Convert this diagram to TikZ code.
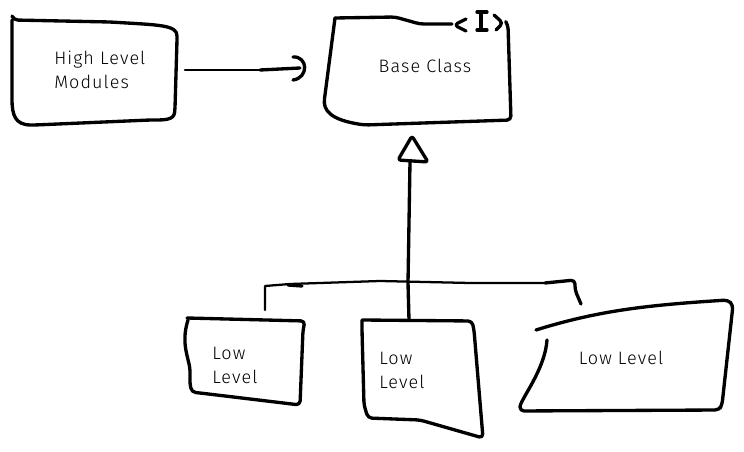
\documentclass[tikz,border=0pt]{standalone}
\usepackage{fontspec}
\setmainfont{Fira Sans Light}[LetterSpace=6]
\begin{document}
\begin{tikzpicture}[x=0.75pt,y=-0.75pt,
  sk/.style={line width=2.5pt,line cap=round,line join=round,rounded corners=3pt},
  thin/.style={line width=1.7pt,line cap=round,line join=round},
  lbl/.style={font=\fontsize{13.5}{18}\selectfont,align=left,inner sep=0pt}]
\useasboundingbox (0,0) rectangle (744,452);
% High level modules
\draw[sk] (12,16) -- (14,20) -- (110,22) .. controls (160,25) and (177,25) .. (177,40) -- (175,108) .. controls (174,120) and (165,120) .. (150,120) -- (35,125) .. controls (15,125) and (12,115) .. (12,95) -- (12,20);
\node[lbl,anchor=west] (high) at (54,70) {High Level\\Modules};
% Base class
\draw[sk] (335,18) -- (395,17) -- (420,24) -- (452,24);
\draw[sk] (466,19) -- (454,25) -- (466,31);
\draw[sk] (481,12) -- (481,30);
\draw[sk] (477,12) -- (487,12);
\draw[sk] (477,30) -- (487,30);
\draw[sk] (494,15) -- (503,23) -- (496,30);
\draw[sk] (506,22) -- (508,25) -- (511,120) -- (365,125) .. controls (330,120) and (323,110) .. (325,95) -- (335,18);
\node[lbl] (base) at (425,66) {Base Class};
% arrow high -> base
\coordinate (hA) at (185,70);
\coordinate (hB) at (300,68);
\draw[thin] (hA) -- (260,70);
\draw[sk] (260,70) -- (hB);
\draw[sk,rounded corners=0pt] (293,57) .. controls (308,56) and (309,78) .. (293,80);
% inheritance
\coordinate (tri) at (412,136);
\draw[sk,rounded corners=2pt] (tri) -- (428,162) -- (398,160) -- cycle;
\coordinate (junc) at (408,283);
\draw[sk] (410,162) -- (junc) -- (409,320);
% bracket
\draw[thin] (265,310) -- (265,286) -- (290,284) -- (380,281) -- (470,283) -- (545,283);
\draw[sk,rounded corners=0pt] (288,285) -- (302,286);
\draw[sk] (545,283) -- (575,280) -- (575,290) -- (581,304);
% Low 1
\draw[sk] (187,318) -- (305,321) -- (303,330) -- (300,405) -- (200,393) .. controls (190,392) and (190,385) .. (190,375) .. controls (190,360) and (180,345) .. (188,320);
\node[lbl,anchor=west] (low1) at (212,365) {Low\\Level};
% Low 2
\draw[sk] (362,320) -- (472,321) -- (474,330) -- (483,438) -- (420,420) -- (368,418) -- (364,405) -- (362,330) -- (362,320);
\node[lbl,anchor=west] (low2) at (379,370) {Low\\Level};
% Low 3
\draw[sk] (536,330) .. controls (600,310) and (650,305) .. (728,300) -- (733,305) -- (722,405) -- (719,410) -- (520,411) .. controls (520,400) and (545,370) .. (547,340);
\node[lbl] (low3) at (621,358) {Low Level};
\end{tikzpicture}
\end{document}
